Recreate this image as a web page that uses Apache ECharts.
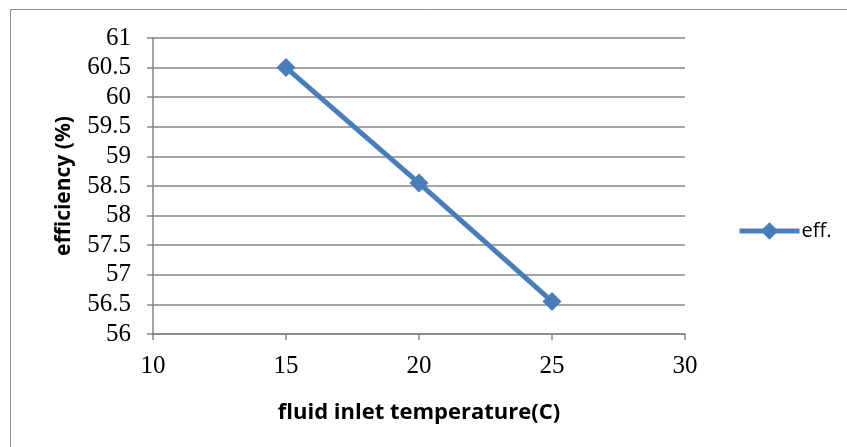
<!DOCTYPE html>
<html>
<head>
<meta charset="utf-8">
<script src="https://cdn.jsdelivr.net/npm/echarts@6/dist/echarts.min.js"></script>
<style>
html,body{margin:0;padding:0;background:#fff;}
#chart{width:847px;height:447px;}
</style>
</head>
<body>
<div id="chart"></div>
<script>
const seriesName = 'eff.';
const temperature = [15, 20, 25];
const efficiency = [60.5, 58.55, 56.55];
const xTitle = 'fluid inlet temperature(C)';
const yTitle = 'efficiency (%)';

const chart = echarts.init(document.getElementById('chart'), null, {renderer: 'canvas'});
const grey = '#868686';
const blue = '#4a7ebb';
chart.setOption({
  animation: false,
  backgroundColor: '#fff',
  graphic: [{
    type: 'rect', silent: true,
    shape: {x: 10.5, y: 9.5, width: 860, height: 460},
    style: {fill: 'none', stroke: '#8c8c8c', lineWidth: 1}
  }],
  grid: {left: 153, right: 162, top: 38, bottom: 113},
  legend: {
    data: [seriesName],
    left: 732, top: 216,
    itemWidth: 60, itemHeight: 22, itemGap: 0,
    lineStyle: {width: 5, color: blue},
    textStyle: {fontFamily: 'Open Sans', fontSize: 20, color: '#000', padding: [0,0,0,-3]}
  },
  xAxis: {
    type: 'value', min: 10, max: 30, interval: 5,
    name: xTitle, nameLocation: 'middle', nameGap: 68,
    nameTextStyle: {fontFamily: 'Open Sans', fontWeight: 'bold', fontSize: 22, color: '#000'},
    axisLine: {show: true, onZero: false, lineStyle: {color: grey, width: 1.5}},
    axisTick: {show: true, length: 6, lineStyle: {color: grey, width: 1.5}},
    axisLabel: {fontFamily: 'Liberation Serif', fontSize: 25, color: '#000', margin: 20},
    splitLine: {show: false}
  },
  yAxis: {
    type: 'value', min: 56, max: 61, interval: 0.5,
    name: yTitle, nameLocation: 'middle', nameGap: 78, nameRotate: 90,
    nameTextStyle: {fontFamily: 'Open Sans', fontWeight: 'bold', fontSize: 21, color: '#000'},
    axisLine: {show: true, lineStyle: {color: grey, width: 1.5}},
    axisTick: {show: true, length: 6, lineStyle: {color: grey, width: 1.5}},
    axisLabel: {fontFamily: 'Liberation Serif', fontSize: 25, color: '#000', margin: 22},
    splitLine: {show: true, lineStyle: {color: grey, width: 1.5}}
  },
  series: [{
    name: seriesName,
    type: 'line',
    data: temperature.map((t, i) => [t, efficiency[i]]),
    symbol: 'diamond', symbolSize: 19,
    lineStyle: {color: blue, width: 5},
    itemStyle: {color: blue},
    emphasis: {disabled: true}
  }]
});
</script>
</body>
</html>
